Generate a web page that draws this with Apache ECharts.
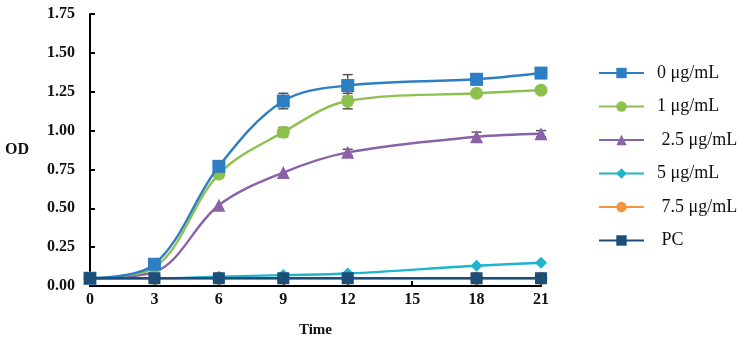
<!DOCTYPE html>
<html><head><meta charset="utf-8">
<script src="https://cdn.jsdelivr.net/npm/echarts@6/dist/echarts.min.js"></script>
<style>html,body{margin:0;padding:0;background:#fff}#c{width:753px;height:342px}</style>
</head><body><div id="c"></div>
<script>
var times = [0, 3, 6, 9, 12, 18, 21];
var seriesNames = ['0 μg/mL', '1 μg/mL', ' 2.5 μg/mL', '5 μg/mL', ' 7.5 μg/mL', ' PC'];
var s0 = [0.05, 0.14, 0.77, 1.19, 1.29, 1.33, 1.37];
var s1 = [0.05, 0.12, 0.72, 0.99, 1.19, 1.24, 1.26];
var s25 = [0.05, 0.09, 0.52, 0.73, 0.86, 0.96, 0.98];
var s5 = [0.05, 0.05, 0.06, 0.07, 0.08, 0.13, 0.15];
var s75 = [0.05, 0.05, 0.05, 0.05, 0.05, 0.05, 0.05];
var sPC = [0.05, 0.05, 0.05, 0.05, 0.05, 0.05, 0.05];
var err0 = [0, 0, 0, 0.05, 0.07, 0.035, 0];
var err1 = [0, 0, 0, 0.03, 0.05, 0, 0];
var err25 = [0, 0, 0, 0, 0.02, 0.03, 0.02];

var colors = ['#2E7EC4', '#8DC14E', '#8A62A8', '#1DB4CE', '#F7943E', '#1B4F7A'];
var symbols = ['rect', 'circle', 'triangle', 'diamond', 'circle', 'rect'];
var sizes = [13, 13, 13, 12, 13, 12];
var values = [s0, s1, s25, s5, s75, sPC];
var errs = [err0, err1, err25];

var font = 'Liberation Serif, Times New Roman, serif';
var series = [];
errs.forEach(function (e, k) {
  var d = [];
  times.forEach(function (t, i) { if (e[i] > 0) d.push([t, values[k][i], e[i]]); });
  series.push({
    type: 'custom', z: 1, silent: true,
    data: d,
    renderItem: function (params, api) {
      var x = api.value(0), y = api.value(1), er = api.value(2);
      var top = api.coord([x, y + er]), bot = api.coord([x, y - er]);
      var w = 5;
      var st = { stroke: '#555', lineWidth: 1.5 };
      return { type: 'group', children: [
        { type: 'line', shape: { x1: top[0], y1: top[1], x2: bot[0], y2: bot[1] }, style: st },
        { type: 'line', shape: { x1: top[0] - w, y1: top[1], x2: top[0] + w, y2: top[1] }, style: st },
        { type: 'line', shape: { x1: bot[0] - w, y1: bot[1], x2: bot[0] + w, y2: bot[1] }, style: st }
      ]};
    }
  });
});
var order = [4, 3, 2, 1, 0, 5];
seriesNames.forEach(function (n, k) {
  series.push({
    type: 'line', name: n, smooth: 0.35,
    z: 2 + order.indexOf(k),
    data: times.map(function (t, i) { return [t, values[k][i]]; }),
    symbol: symbols[k], symbolSize: sizes[k],
    lineStyle: { color: colors[k], width: 2.4 },
    itemStyle: { color: colors[k] }
  });
});

var chart = echarts.init(document.getElementById('c'));
chart.setOption({
  animation: false,
  grid: { left: 90, right: 212, top: 14, bottom: 56, containLabel: false, outerBoundsMode: 'none' },
  legend: {
    data: seriesNames, orient: 'vertical', left: 598, top: 64, padding: 0,
    itemWidth: 45, itemHeight: 13, itemGap: 15.5,
    textStyle: { fontFamily: font, fontSize: 18, color: '#111', padding: [0, 0, 0, 8] }
  },
  xAxis: {
    type: 'value', min: 0, max: 21, interval: 3,
    name: 'Time', nameLocation: 'middle', nameGap: 37,
    nameTextStyle: { fontFamily: font, fontWeight: 'bold', fontSize: 15, color: '#111' },
    axisLine: { lineStyle: { color: '#000', width: 2 } },
    axisTick: { inside: true, length: 5, lineStyle: { color: '#000', width: 2 } },
    axisLabel: { fontFamily: font, fontWeight: 'bold', fontSize: 16, color: '#111', margin: 6 },
    splitLine: { show: false }
  },
  yAxis: {
    type: 'value', min: 0, max: 1.75, interval: 0.25,
    name: 'OD', nameLocation: 'middle', nameGap: 61, nameRotate: 0,
    nameTextStyle: { fontFamily: font, fontWeight: 'bold', fontSize: 16, color: '#111' },
    axisLine: { show: true, lineStyle: { color: '#000', width: 2 } },
    axisTick: { show: true, inside: true, length: 5, lineStyle: { color: '#000', width: 2 } },
    axisLabel: { fontFamily: font, fontWeight: 'bold', fontSize: 16, color: '#111', margin: 15,
      formatter: function (v) { return v.toFixed(2); } },
    splitLine: { show: false }
  },
  series: series
});
</script></body></html>
